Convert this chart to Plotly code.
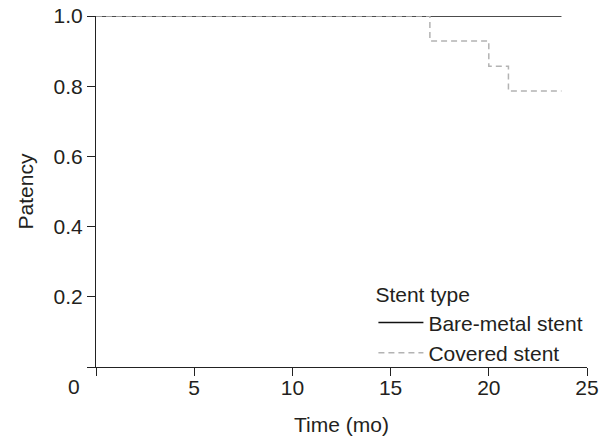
import plotly.graph_objects as go

# Kaplan-Meier style data
bare_time = [0, 23.7]
bare_surv = [1.0, 1.0]
covered_time = [0, 17, 20, 21, 23.7]
covered_surv = [1.0, 0.929, 0.857, 0.786, 0.786]

x_ticks = [0, 5, 10, 15, 20, 25]
x_ticklabels = ["", "5", "10", "15", "20", "25"]
y_ticks = [0, 0.2, 0.4, 0.6, 0.8, 1.0]
y_ticklabels = ["", "0.2", "0.4", "0.6", "0.8", "1.0"]

FONT = "Liberation Sans, Arial, sans-serif"
TXT = "#231f20"
FS = 21

fig = go.Figure()
fig.add_trace(go.Scatter(
    x=bare_time, y=bare_surv, mode="lines", line_shape="hv",
    name="Bare-metal stent", line=dict(color="#111111", width=1.5),
    cliponaxis=False))
fig.add_trace(go.Scatter(
    x=covered_time, y=covered_surv, mode="lines", line_shape="hv",
    name="Covered stent", line=dict(color="#b3b3b3", width=1.5, dash="6px,4px"),
    cliponaxis=False))

fig.update_layout(
    width=607, height=436,
    margin=dict(l=96, r=20, t=16, b=69, autoexpand=False),
    paper_bgcolor="white", plot_bgcolor="white",
    font=dict(family=FONT, size=FS, color=TXT),
    showlegend=True,
    legend=dict(
        title=dict(text="Stent type", font=dict(size=FS, color=TXT)),
        x=0.565, y=0.262, xanchor="left", yanchor="top",
        bgcolor="rgba(0,0,0,0)", font=dict(size=FS, color=TXT),
        tracegroupgap=0, itemwidth=45,
    ),
    xaxis=dict(
        range=[0, 25], tickvals=x_ticks, ticktext=x_ticklabels,
        showline=True, linecolor="#222222", linewidth=1.2,
        ticks="outside", ticklen=8, tickcolor="#222222", tickwidth=1.2,
        showgrid=False, zeroline=False, automargin=False,
        ticklabelstandoff=-6,
        title=dict(text="Time (mo)", font=dict(size=FS, color=TXT), standoff=19),
        tickfont=dict(size=FS, color=TXT),
    ),
    yaxis=dict(
        range=[0, 1], tickvals=y_ticks, ticktext=y_ticklabels,
        showline=True, linecolor="#222222", linewidth=1.2,
        ticks="outside", ticklen=8, tickcolor="#222222", tickwidth=1.2,
        showgrid=False, zeroline=False, automargin=False,
        title=dict(text="Patency", font=dict(size=FS, color=TXT), standoff=14),
        tickfont=dict(size=FS, color=TXT),
    ),
)

fig.add_annotation(
    x=0, y=0, xref="x", yref="y", text="0", showarrow=False,
    xshift=-22, yshift=-19, font=dict(size=FS, color=TXT, family=FONT))

fig.write_html(
    "out.html",
    config={"displayModeBar": False},
    post_script="document.body.style.margin='0';document.body.style.overflow='hidden';",
)
